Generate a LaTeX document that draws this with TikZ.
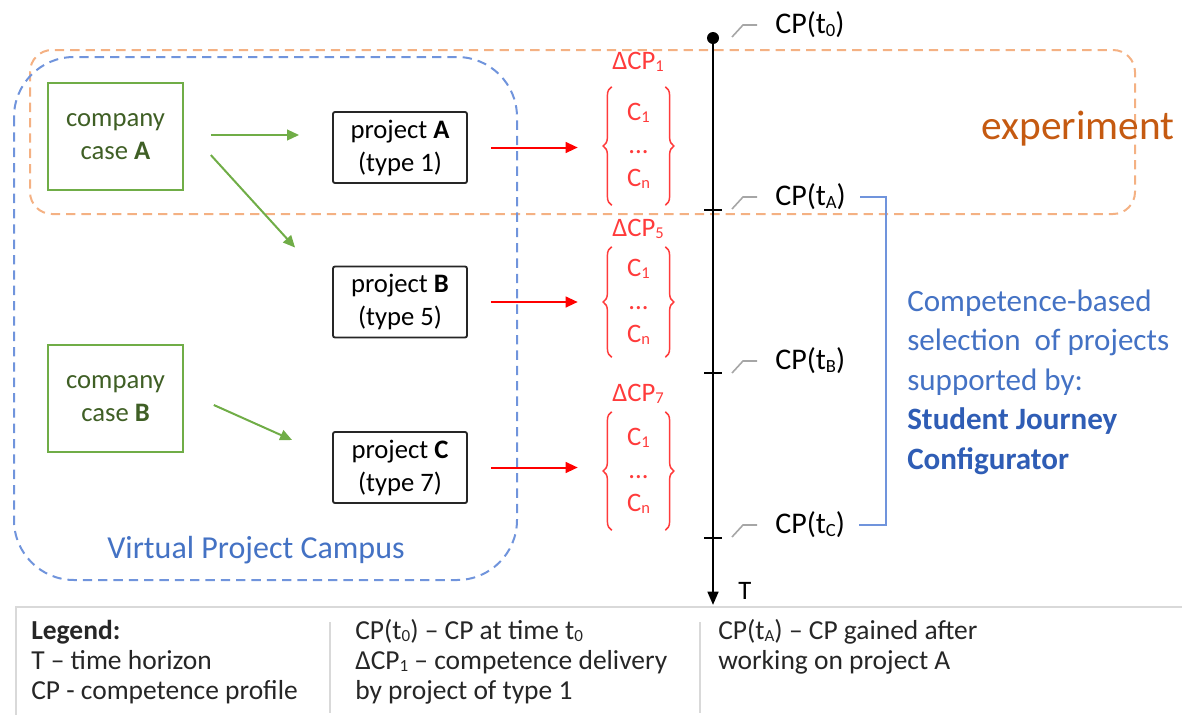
\documentclass[tikz,border=0pt]{standalone}
\usepackage{fontspec}
\setmainfont{Carlito}
\usetikzlibrary{arrows.meta,calc,decorations.pathreplacing}
\definecolor{gbox}{HTML}{70AD47}
\definecolor{gtext}{HTML}{3F5F25}
\definecolor{redc}{HTML}{FF0000}
\definecolor{redt}{HTML}{FF3B3B}
\definecolor{orng}{HTML}{F4B183}
\definecolor{orngt}{HTML}{C55A11}
\definecolor{bluel}{HTML}{7094DC}
\definecolor{bluet}{HTML}{4472C4}
\definecolor{blueb}{HTML}{2F5DB5}
\definecolor{leadc}{HTML}{A6A6A6}
\definecolor{legtext}{HTML}{262626}
\definecolor{leggrey}{HTML}{D9D9D9}
\newcommand{\lsub}[1]{\raisebox{-0.08em}{\scalebox{0.62}{#1}}}
\begin{document}
\begin{tikzpicture}[x=0.75pt,y=-0.75pt,
  font=\fontsize{20}{24.75}\selectfont,
  casebox/.style={draw=gbox,line width=1.2pt,minimum width=101.25pt,minimum height=80.25pt,align=center,inner sep=0pt,text=gtext},
  projbox/.style={draw=black!85,line width=1.4pt,rounded corners=1.5pt,minimum width=100.5pt,minimum height=53.25pt,align=center,inner sep=0pt},
  garrow/.style={draw=gbox,line width=1.5pt,-{Triangle[length=9pt,width=8pt]}},
  rarrow/.style={draw=redc,line width=1.5pt,-{Triangle[length=9pt,width=8pt]}},
  compgrp/.style={text=redt,align=center,minimum width=39.75pt,inner sep=0pt},
  bracest/.style={draw=redt,line width=1.1pt,decorate,decoration={brace,amplitude=6.5pt}},
  cplabel/.style={anchor=west,inner sep=0pt,font=\fontsize{22.5}{26}\selectfont},
  leadline/.style={draw=leadc,line width=1.2pt},
  tickst/.style={line width=1.3pt},
  legendtext/.style={anchor=west,align=left,inner sep=0pt,text=legtext,font=\fontsize{20.6}{22.5}\selectfont},
  legline/.style={draw=leggrey,line width=1pt}
]
\useasboundingbox (0,0) rectangle (1182,715);

% experiment and campus regions
\draw[orng,line width=1.5pt,dash pattern=on 7pt off 4.5pt,rounded corners=16.5pt] (30,50) rectangle (1135,214);
\draw[bluel,line width=1.5pt,dash pattern=on 7pt off 4.5pt,rounded corners=45pt] (14,57) rectangle (517,580);

\node[text=orngt,font=\fontsize{31}{36}\selectfont] (exp) at (1078,129) {experiment};
\node[text=bluet,font=\fontsize{24}{28}\selectfont] (vpc) at (256,550) {Virtual Project Campus};

% company cases
\node[casebox] (caseA) at (115.5,136.5) {company\\case \textbf{A}};
\node[casebox] (caseB) at (115.5,398.5) {company\\case \textbf{B}};

% projects
\node[projbox] (projA) at (400,147.5) {project \textbf{A}\\(type 1)};
\node[projbox] (projB) at (400,302) {project \textbf{B}\\(type 5)};
\node[projbox] (projC) at (400,467.5) {project \textbf{C}\\(type 7)};

% green arrows
\draw[garrow] ($(caseA.east)+(27,-1.5)$) -- ($(projA.west)+(-33,-12.5)$);
\draw[garrow] ($(caseA.east)+(27,18.5)$) -- ($(projB.north west)+(-37,-18)$);
\draw[garrow] ($(caseB.east)+(30,6.5)$) -- ($(projC.west)+(-40,-27.5)$);

% competence groups
\node[compgrp,minimum height=88.5pt] (grpA) at (638.5,146) {C\lsub{1}\\...\\C\lsub{n}};
\node[compgrp,minimum height=82.5pt] (grpB) at (638.5,302) {C\lsub{1}\\...\\C\lsub{n}};
\node[compgrp,minimum height=88.5pt] (grpC) at (638.5,471) {C\lsub{1}\\...\\C\lsub{n}};
\foreach \g in {grpA,grpB,grpC}{
  \draw[bracest] (\g.south west) -- (\g.north west);
  \draw[bracest] (\g.north east) -- (\g.south east);
}
\node[text=redt] (dA) at (638,62) {ΔCP\lsub{1}};
\node[text=redt] (dB) at (638,229) {ΔCP\lsub{5}};
\node[text=redt] (dC) at (638,394) {ΔCP\lsub{7}};

% red arrows
\draw[rarrow] ($(projA.east)+(23,0)$) -- ($(projA.east -| grpA.west)+(-34,0)$);
\draw[rarrow] ($(projB.east)+(23,0)$) -- ($(projB.east -| grpB.west)+(-34,0)$);
\draw[rarrow] ($(projC.east)+(23,0)$) -- ($(projC.east -| grpC.west)+(-34,0)$);

% timeline
\coordinate (top) at (713,38);
\coordinate (bot) at (713,605);
\coordinate (tA) at (713,210);
\coordinate (tB) at (713,373);
\coordinate (tC) at (713,538);
\draw[line width=1.9pt,-{Triangle[length=10pt,width=8pt]}] (top) -- (bot);
\fill (top) circle (4.5pt);
\foreach \t in {tA,tB,tC}{
  \draw[tickst] ($(\t)+(-9,0)$) -- ($(\t)+(9,0)$);
}
\node[anchor=west,inner sep=0pt] (T) at (738,591) {T};

% CP labels
\node[cplabel] (L0) at (775,25) {CP(t\lsub{0})};
\node[cplabel] (LA) at (775,197) {CP(t\lsub{A})};
\node[cplabel] (LB) at (775,361) {CP(t\lsub{B})};
\node[cplabel] (LC) at (775,525) {CP(t\lsub{C})};
\foreach \l in {L0,LA,LB,LC}{
  \draw[leadline] ($(\l.west)+(-43,12)$) -- ($(\l.west)+(-32,0)$) -- ($(\l.west)+(-18,0)$);
}

% blue bracket and text
\draw[bluel,line width=1.2pt] ($(LA.east)+(14,0)$) -- ($(LA.east -| 886,0)$) -- ($(LC.east -| 886,0)$) -- ($(LC.east)+(14,0)$);
\node[anchor=west,align=left,inner sep=0pt,text=bluet,font=\fontsize{23.3}{29.6}\selectfont] (sjc) at (907,382)
  {Competence-based\\selection~ of projects\\supported by:\\\textcolor{blueb}{\textbf{Student Journey}}\\\textcolor{blueb}{\textbf{Configurator}}};

% legend
\draw[leggrey,line width=2pt] (15,607) -- (1182,607);
\draw[legline] (16,607) -- (16,715);
\draw[legline] (330,622) -- (330,713);
\draw[legline] (700,622) -- (700,713);
\node[legendtext] (leg1) at (31,662) {\textbf{Legend:}\\T – time horizon\\CP - competence profile};
\node[legendtext] (leg2) at (355,662) {CP(t\lsub{0}) – CP at time t\lsub{0}\\ΔCP\lsub{1} – competence delivery\\by project of type 1};
\node[legendtext] (leg3) at (718,647) {CP(t\lsub{A}) – CP gained after\\working on project A};
\end{tikzpicture}
\end{document}
